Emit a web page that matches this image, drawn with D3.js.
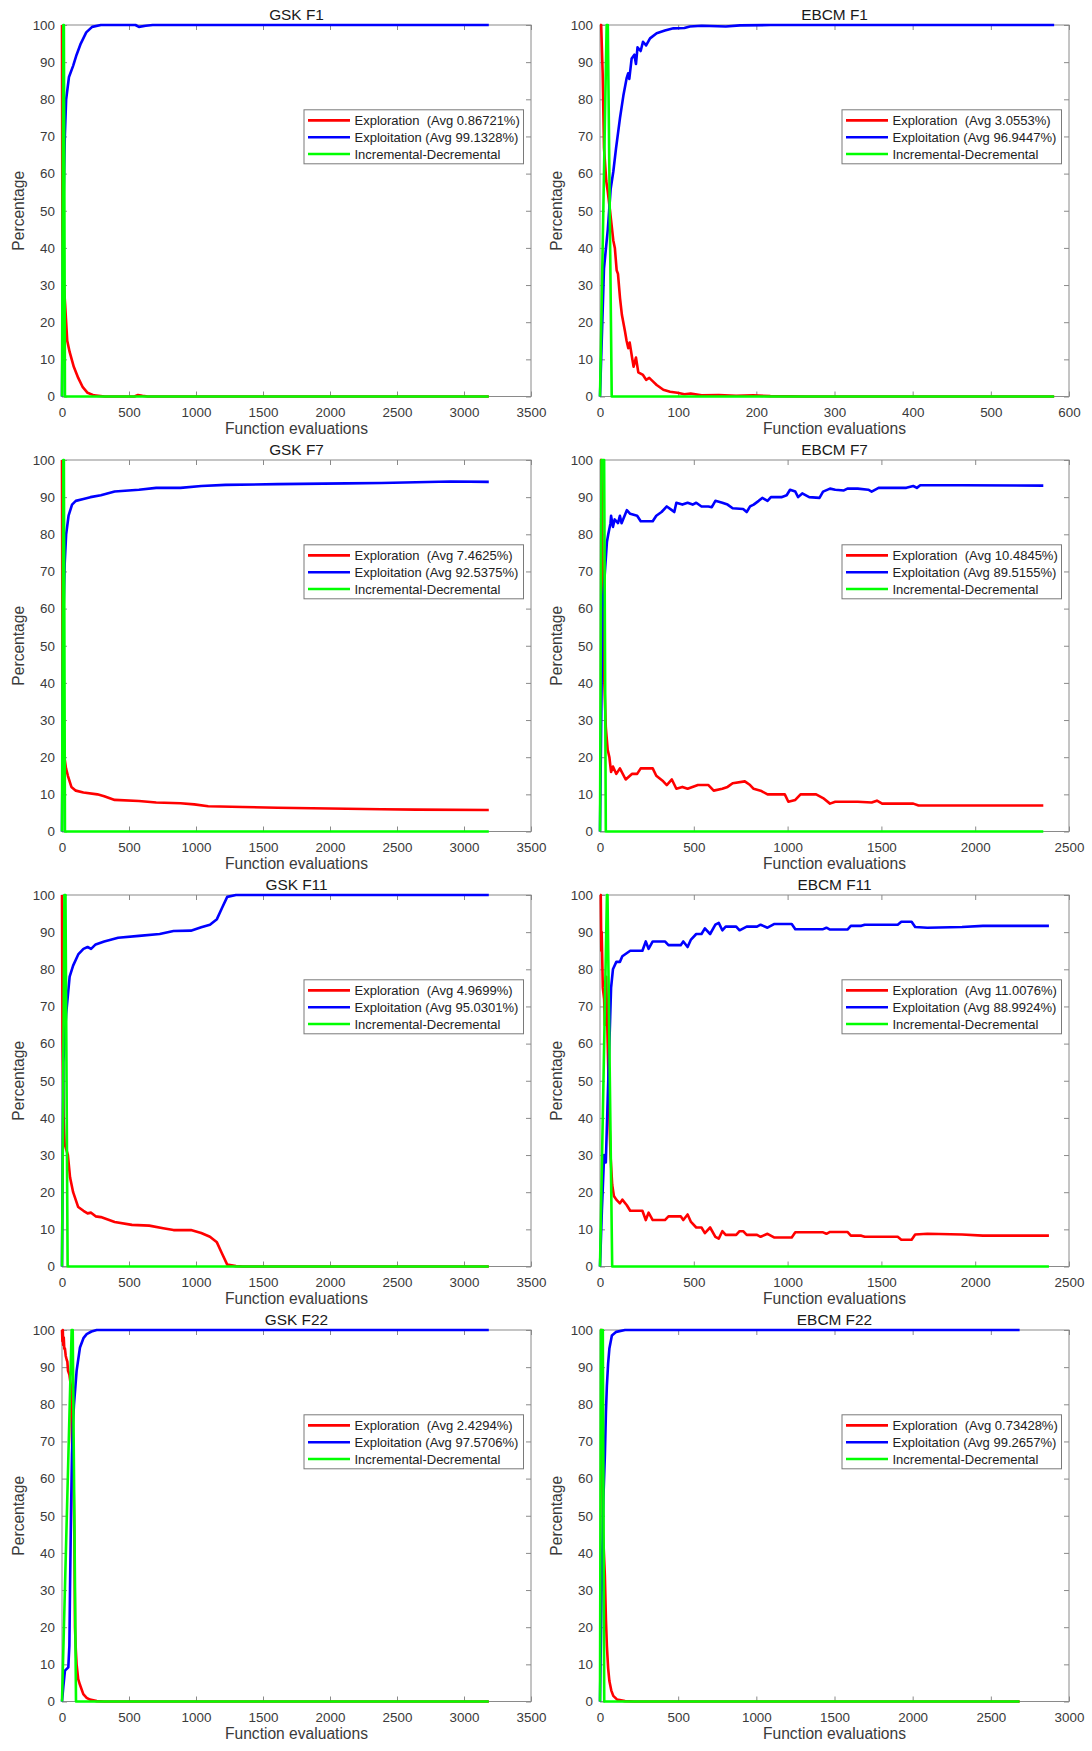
<!DOCTYPE html>
<html>
<head>
<meta charset="utf-8">
<script src="https://cdn.jsdelivr.net/npm/d3@7"></script>
<style>
  body { margin: 0; background: #fff; }
  text { font-family: "Liberation Sans", Arial, Helvetica, sans-serif; }
</style>
</head>
<body>
<svg id="fig" width="1092" height="1751"></svg>
<script>
// panel info, in reading order (left = GSK, right = EBCM)
var titles = ["GSK F1", "EBCM F1", "GSK F7", "EBCM F7", "GSK F11", "EBCM F11", "GSK F22", "EBCM F22"];
var xMaxes = [3500, 600, 3500, 2500, 3500, 2500, 3500, 3000];
var xSteps = [500, 100, 500, 500, 500, 500, 500, 500];
var yTicks = [0, 10, 20, 30, 40, 50, 60, 70, 80, 90, 100];
var exploreAvg = ["0.86721", "3.0553", "7.4625", "10.4845", "4.9699", "11.0076", "2.4294", "0.73428"];
var exploitAvg = ["99.1328", "96.9447", "92.5375", "89.5155", "95.0301", "88.9924", "97.5706", "99.2657"];

// [function evaluations, percentage]
var exploreGskF1 = [[0,100],[3,45],[8,33],[23,25],[39,15],[57,12],[88,8],[121,5],[155,2.5],[191,1],[238,0.3],[320,0],[540,0],[567,0.4],[600,0.2],[640,0],[3185,0]];
var exploitGskF1 = [[0,0],[13,55],[21,70],[31,80],[52,86],[83,89],[109,92],[140,95],[181,98],[225,99.5],[290,100],[548,100],[574,99.5],[625,99.8],[677,100],[3185,100]];
var incDecGskF1 = [[0,0],[10,100],[14,100],[22,0],[3185,0]];

var exploreEbcmF1 = [[0,100],[1.5,100],[3.4,87],[5.1,67],[8,58],[10,55],[12.8,50],[17,42],[19,40],[21.3,34],[23,33],[25.6,26.5],[28,22],[32,17.5],[34,15],[36.2,13],[38,14.5],[41,10.5],[43,8],[46,10.5],[49,6.5],[55,5.8],[59,4.5],[63,5],[68,4],[72.5,3.1],[81,1.8],[89.6,1.3],[99,1],[108,0.6],[116,0.8],[130,0.3],[152,0.4],[174,0.2],[196,0.3],[218,0.1],[263,0],[581,0]];
var exploitEbcmF1 = [[0,0],[5.1,34.5],[10,45],[13.7,56],[17,60.5],[20.5,66.8],[25.6,75],[29.9,81],[34,85.6],[36,87],[37.5,85.5],[40.5,91],[44,92],[46,89.5],[48,94],[52,93],[55,95.5],[59,94.5],[64,96.4],[72.5,97.8],[83,98.5],[93.9,99.1],[108,99.2],[115,99.6],[130,99.8],[161,99.6],[179,99.9],[218,100],[581,100]];
var incDecEbcmF1 = [[0,0],[8.5,100],[10,100],[15,0],[581,0]];

var exploreGskF7 = [[0,100],[4,40],[12,25],[18,20],[30,17],[44,15],[70,12],[103,11],[160,10.5],[264,10],[315,9.5],[393,8.5],[574,8.2],[703,7.8],[884,7.6],[987,7.3],[1091,6.8],[1350,6.6],[1608,6.4],[1996,6.2],[2383,6],[2642,5.9],[3185,5.8]];
var exploitGskF7 = [[0,0],[12,60],[20,72],[31,80],[49,85],[75,88],[103,89],[160,89.5],[212,90],[290,90.5],[393,91.5],[574,92],[703,92.5],[884,92.5],[1040,93],[1220,93.3],[1608,93.5],[2125,93.7],[2383,93.8],[2642,94],[2900,94.2],[3185,94.1]];
var incDecGskF7 = [[0,0],[10,100],[14,100],[22,0],[3185,0]];

var exploreEbcmF7 = [[0,100],[7,100],[20,45],[31,28],[41,22],[50,20],[59,16],[69,17.5],[87,15.5],[106,17],[137,14],[170,15.5],[198,15.5],[217,17],[281,17],[300,15],[337,13.5],[356,12.5],[383,14],[407,11.5],[439,12],[467,11.5],[522,12.5],[578,12.5],[606,11],[652,11.5],[680,12],[707,13],[772,13.5],[800,12.5],[819,11.5],[856,11],[893,10],[985,10],[1004,8],[1041,8.5],[1069,10],[1152,10],[1189,9],[1226,7.5],[1254,8],[1374,8],[1448,7.8],[1476,8.3],[1504,7.5],[1670,7.5],[1698,7],[2363,7]];
var exploitEbcmF7 = [[0,0],[13,60],[37,78],[44,80],[56,83],[59,85],[69,82],[78,84],[96,83],[106,85],[115,83],[143,86.5],[161,85.5],[198,85],[217,83.5],[281,83.5],[300,85],[328,86],[356,87.5],[383,86.5],[396,86],[407,88.5],[439,88],[467,88.5],[494,88],[513,88.5],[541,87.5],[578,87.5],[596,87.3],[615,89],[652,88.5],[680,88],[707,87],[763,86.8],[782,86],[800,87.5],[819,88],[846,89],[865,89.8],[893,89],[911,90],[967,90],[995,90.5],[1013,92],[1041,91.5],[1056,90],[1078,91],[1115,90],[1170,89.8],[1189,91.5],[1226,92.3],[1254,92],[1300,91.8],[1319,92.3],[1374,92.3],[1430,92],[1448,91.5],[1485,92.5],[1633,92.5],[1670,93],[1689,92.5],[1707,93.2],[1930,93.2],[2363,93.1]];
var incDecEbcmF7 = [[0,0],[8,100],[22,100],[31,0],[2363,0]];

var exploreGskF11 = [[0,100],[4,60],[12,40],[20,33],[44,30],[60,24],[83,20],[121,16],[160,15],[191,14.3],[217,14.5],[251,13.5],[290,13.3],[393,12],[522,11.2],[651,11],[755,10.3],[832,9.8],[962,9.8],[1039,9],[1104,8],[1156,6.5],[1194,3.5],[1233,0.5],[1298,0.1],[1350,0],[3185,0]];
var exploitGskF11 = [[0,0],[10,55],[31,68],[57,78],[83,81],[121,84],[160,85.5],[191,86],[217,85.5],[251,86.7],[315,87.5],[419,88.5],[574,89],[729,89.5],[832,90.3],[962,90.4],[1039,91.3],[1104,92],[1156,93.5],[1194,96.5],[1233,99.5],[1298,100],[3185,100]];
var incDecGskF11 = [[0,0],[18,100],[26,100],[42,0],[3185,0]];

var exploreEbcmF11 = [[0,100],[4,100],[7,85],[9,90],[15,75],[22,72],[26,65],[33,78],[41,60],[50,40],[56,30],[65,22],[74,19],[87,18],[106,17],[119,18],[143,16.5],[161,15],[226,15],[244,12.5],[259,14.5],[281,12.5],[346,12.5],[365,13.5],[430,13.5],[444,12.5],[467,14],[485,12],[513,10.5],[541,10.5],[559,9],[587,10.5],[615,8],[633,7.5],[652,9.5],[670,8.5],[726,8.5],[744,9.5],[763,9.5],[782,8.5],[837,8.5],[856,8],[893,8.8],[930,7.8],[1022,7.8],[1041,9.2],[1189,9.2],[1207,8.8],[1226,9.3],[1319,9.3],[1337,8.3],[1393,8.3],[1411,8],[1587,8],[1606,7.2],[1661,7.2],[1680,8.6],[1745,8.8],[1930,8.6],[2041,8.3],[2393,8.3]];
var exploitEbcmF11 = [[0,0],[10,15],[22,30],[31,28],[41,45],[50,60],[59,75],[69,80],[87,82],[106,82],[119,83.5],[161,85],[226,85],[244,87.5],[259,85.5],[281,87.5],[346,87.5],[365,86.5],[430,86.5],[444,87.5],[467,86],[485,88],[513,89.5],[541,89.5],[559,91],[587,89.5],[615,92],[633,92.5],[652,90.5],[670,91.5],[726,91.5],[744,90.5],[782,91.5],[837,91.5],[856,92],[893,91.2],[930,92.2],[1022,92.2],[1041,90.8],[1189,90.8],[1207,91.2],[1226,90.7],[1319,90.7],[1337,91.7],[1393,91.7],[1411,92],[1587,92],[1606,92.8],[1661,92.8],[1680,91.4],[1745,91.2],[1930,91.4],[2041,91.7],[2393,91.7]];
var incDecEbcmF11 = [[0,0],[37,100],[40,100],[65,0],[2393,0]];

var exploreGskF22 = [[0,100],[3,97],[6,100],[9,96],[13,98],[17,95],[22,95],[28,93],[35,92],[40,91.5],[45,89],[55,88],[66,85],[75,70],[86,60],[92,45],[95,30],[97,20],[103,14],[109,10],[121,6],[134,4.5],[159,2],[184,1],[209,0.5],[260,0.1],[315,0],[3185,0]];
var exploitGskF22 = [[0,0],[10,4],[22,8.3],[47,9.2],[55,15],[60,30.8],[67,50],[74.6,66.6],[82,75],[89.6,80],[109,89],[134,95.3],[160,97.8],[184,98.9],[220,99.6],[259,100],[3185,100]];
var incDecGskF22 = [[0,0],[72,100],[80,100],[104.5,0],[3185,0]];

var exploreEbcmF22 = [[0,100],[8,100],[12,65],[20,45],[31,34],[38,22],[44,15],[52,9],[60,5.5],[72,3],[85,1.5],[110,0.5],[160,0.1],[220,0],[2684,0]];
var exploitEbcmF22 = [[0,0],[12,35],[22,55],[31,66],[38,78],[44,85],[52,91],[60,95],[76,98.5],[104,99.5],[160,100],[2684,100]];
var incDecEbcmF22 = [[0,0],[6,100],[18,100],[27,0],[2684,0]];

var exploreSeries = [exploreGskF1, exploreEbcmF1, exploreGskF7, exploreEbcmF7, exploreGskF11, exploreEbcmF11, exploreGskF22, exploreEbcmF22];
var exploitSeries = [exploitGskF1, exploitEbcmF1, exploitGskF7, exploitEbcmF7, exploitGskF11, exploitEbcmF11, exploitGskF22, exploitEbcmF22];
var incDecSeries = [incDecGskF1, incDecEbcmF1, incDecGskF7, incDecEbcmF7, incDecGskF11, incDecEbcmF11, incDecGskF22, incDecEbcmF22];

// layout
var lefts = [62, 600];
var tops = [25, 460, 895, 1330];
var W = 469, H = 371.5;
var FONT = '"Liberation Sans", Arial, Helvetica, sans-serif';
var AXIS_GRAY = "#8a8a8a";
var TEXT = "#3a3a3a";

var svg = d3.select("#fig");

titles.forEach(function(title, i) {
  var L = lefts[i % 2], T = tops[Math.floor(i / 2)];
  var g = svg.append("g").attr("transform", "translate(" + L + "," + T + ")");

  var x = d3.scaleLinear().domain([0, xMaxes[i]]).range([0, W]);
  var y = d3.scaleLinear().domain([0, 100]).range([H, 0]);
  var xt = d3.range(0, xMaxes[i] + 1, xSteps[i]);
  var fmt = d3.format("d");

  g.append("rect").attr("width", W).attr("height", H)
    .attr("fill", "#fff").attr("stroke", AXIS_GRAY).attr("stroke-width", 1);

  function styleAxis(sel, showText) {
    sel.select(".domain").remove();
    sel.selectAll(".tick line").attr("stroke", AXIS_GRAY);
    sel.attr("font-family", FONT).attr("font-size", 13.4);
    sel.selectAll(".tick text").attr("fill", TEXT);
    if (!showText) sel.selectAll(".tick text").remove();
  }

  g.append("g").attr("transform", "translate(0," + H + ")")
    .call(d3.axisBottom(x).tickValues(xt).tickFormat(fmt).tickSizeInner(-5).tickSizeOuter(0).tickPadding(11))
    .call(styleAxis, true);
  g.append("g")
    .call(d3.axisTop(x).tickValues(xt).tickSizeInner(-5).tickSizeOuter(0))
    .call(styleAxis, false);
  g.append("g")
    .call(d3.axisLeft(y).tickValues(yTicks).tickFormat(fmt).tickSizeInner(-5).tickSizeOuter(0).tickPadding(7))
    .call(styleAxis, true);
  g.append("g").attr("transform", "translate(" + W + ",0)")
    .call(d3.axisRight(y).tickValues(yTicks).tickSizeInner(-5).tickSizeOuter(0))
    .call(styleAxis, false);

  var line = d3.line().x(function(d) { return x(d[0]); }).y(function(d) { return y(d[1]); });
  [[exploreSeries[i], "#ff0000"], [exploitSeries[i], "#0000ff"], [incDecSeries[i], "#00ff00"]]
    .forEach(function(s) {
      g.append("path").datum(s[0]).attr("d", line)
        .attr("fill", "none").attr("stroke", s[1]).attr("stroke-width", 2.6)
        .attr("stroke-linejoin", "round");
    });

  // title and labels
  g.append("text").attr("x", W / 2).attr("y", -5.5).attr("text-anchor", "middle")
    .attr("font-size", 15.4).attr("fill", "#1a1a1a").text(title);
  g.append("text").attr("x", W / 2).attr("y", H + 37.5).attr("text-anchor", "middle")
    .attr("font-size", 15.6).attr("fill", TEXT).text("Function evaluations");
  g.append("text").attr("transform", "translate(-38.5," + (H / 2) + ") rotate(-90)")
    .attr("text-anchor", "middle").attr("font-size", 15.6).attr("fill", TEXT).text("Percentage");

  // legend
  var leg = g.append("g").attr("transform", "translate(242,84.8)");
  leg.append("rect").attr("width", 219.5).attr("height", 54)
    .attr("fill", "#fff").attr("stroke", "#7a7a7a").attr("stroke-width", 1);
  var items = [
    ["Exploration  (Avg " + exploreAvg[i] + "%)", "#ff0000"],
    ["Exploitation (Avg " + exploitAvg[i] + "%)", "#0000ff"],
    ["Incremental-Decremental", "#00ff00"]
  ];
  items.forEach(function(it, k) {
    var cy = 10.6 + k * 16.8;
    leg.append("line").attr("x1", 4).attr("x2", 46).attr("y1", cy).attr("y2", cy)
      .attr("stroke", it[1]).attr("stroke-width", 2.6);
    leg.append("text").attr("x", 50.5).attr("y", cy).attr("dy", "0.35em")
      .attr("font-size", 13).attr("fill", "#222").style("white-space", "pre").text(it[0]);
  });
});
</script>
</body>
</html>
